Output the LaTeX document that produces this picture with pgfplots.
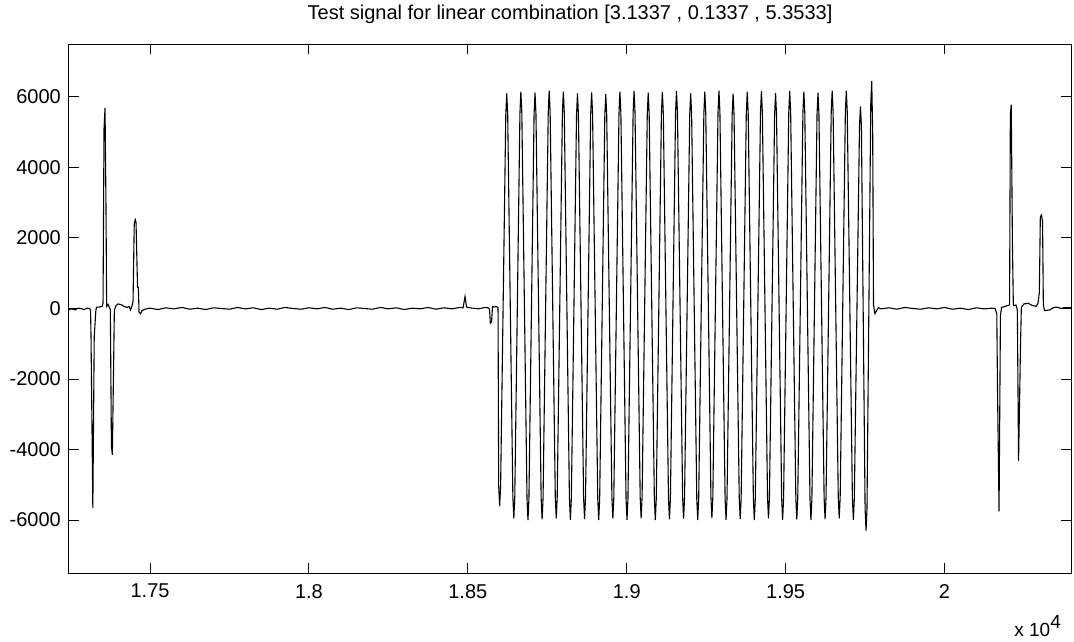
\documentclass[border=0pt]{standalone}
\usepackage{pgfplots}
\pgfplotsset{compat=1.18}
\usepackage{fontspec}
\setmainfont{Liberation Sans}
\begin{document}
\begin{tikzpicture}
\path[use as bounding box] (-69pt,-68pt) rectangle (1005pt,573pt);
\begin{axis}[
  name=ax,
  at={(0pt,0pt)}, anchor=south west,
  scale only axis, width=1002pt, height=529pt,
  xmin=17245, xmax=20398, ymin=-7500, ymax=7500,
  xtick={17500,18000,18500,19000,19500,20000},
  xticklabels={1.75,1.8,1.85,1.9,1.95,2},
  ytick={-6000,-4000,-2000,0,2000,4000,6000},
  yticklabels={-6000,-4000,-2000,0,2000,4000,6000},
  scaled x ticks=false, scaled y ticks=false,
  tick pos=both, xticklabel pos=lower, yticklabel pos=left,
  tick align=inside, major tick length=10pt,
  tick style={black, line width=1pt},
  axis line style={line width=1pt},
  tick label style={font=\fontsize{20}{24}\selectfont},
  xticklabel style={anchor=north, inner sep=0pt, yshift=-11pt},
  yticklabel style={anchor=east, inner sep=0pt, xshift=-8pt},
  title={Test signal for linear combination [3.1337 , 0.1337 , 5.3533]},
  title style={at={(0.5,1)}, anchor=base, yshift=19pt, inner sep=0pt, font=\fontsize{20}{24}\selectfont},
]
\addplot[black, line width=1.1pt, mark=none] coordinates {
(17245.1,-30) (17254.6,-10) (17264.0,-40) (17273.4,10) (17282.9,0) (17292.3,-30) (17301.8,10) (17309.6,0)
(17312.8,-50) (17314.3,-780) (17320.0,-5650) (17324.4,-800) (17329.5,-60) (17331.6,40) (17339.5,40) (17349.0,60)
(17352.1,150) (17355.2,5100) (17358.4,5680) (17361.5,2780) (17363.4,60) (17367.8,120) (17372.6,20)
(17375.1,-30) (17378.5,-3900) (17381.4,-4150) (17385.1,-1800) (17387.7,-50) (17393.0,80) (17399.3,130)
(17408.7,110) (17418.2,60) (17427.6,30) (17433.9,60) (17438.6,-40) (17443.4,80) (17446.5,200)
(17450.3,2400) (17453.4,2520) (17455.9,2450) (17460.7,600) (17463.2,600) (17465.4,-100) (17470.1,-150)
(17474.8,-60) (17484.3,-20)
(17500,10) (17525,-30) (17550,20) (17575,-10) (17600,30) (17625,-20) (17650,10) (17675,-30) (17700,20)
(17725,0) (17750,-20) (17775,30) (17800,-10) (17825,20) (17850,-30) (17875,10) (17900,-20) (17925,30)
(17950,0) (17975,-20) (18000,20) (18025,-10) (18050,30) (18075,-20) (18100,10) (18125,-30) (18150,20)
(18175,0) (18200,-20) (18225,30) (18250,-10) (18275,20) (18300,-30) (18325,10) (18350,-10) (18375,30)
(18400,-20) (18425,20) (18450,-10) (18475,30) (18485,20) (18491.2,340) (18495.9,40) (18506.9,20)
(18532.1,-10) (18554.1,30) (18563.6,20) (18568.3,-20) (18570.8,-420) (18574.6,-380) (18577.7,60)
(18582.4,40) (18588.7,60) (18595,30)
(18597.1,-5040) (18600.1,-5600) (18603.1,-5040) (18619.4,5490) (18622.4,6100) (18625.4,5490)
(18641.7,-5355) (18644.7,-5950) (18647.7,-5355) (18663.9,5535) (18666.9,6150) (18669.9,5535)
(18686.2,-5400) (18689.2,-6000) (18692.2,-5400) (18708.4,5508) (18711.4,6120) (18714.4,5508)
(18730.7,-5382) (18733.7,-5980) (18736.7,-5382) (18753.0,5562) (18756.0,6180) (18759.0,5562)
(18775.2,-5355) (18778.2,-5950) (18781.2,-5355) (18797.5,5535) (18800.5,6150) (18803.5,5535)
(18819.7,-5391) (18822.7,-5990) (18825.7,-5391) (18842.0,5490) (18845.0,6100) (18848.0,5490)
(18864.3,-5373) (18867.3,-5970) (18870.3,-5373) (18886.5,5517) (18889.5,6130) (18892.5,5517)
(18908.8,-5400) (18911.8,-6000) (18914.8,-5400) (18931.0,5472) (18934.0,6080) (18937.0,5472)
(18953.3,-5364) (18956.3,-5960) (18959.3,-5364) (18975.6,5535) (18978.6,6150) (18981.6,5535)
(18997.8,-5391) (19000.8,-5990) (19003.8,-5391) (19020.1,5553) (19023.1,6170) (19026.1,5553)
(19042.3,-5355) (19045.3,-5950) (19048.3,-5355) (19064.6,5508) (19067.6,6120) (19070.6,5508)
(19086.9,-5400) (19089.9,-6000) (19092.9,-5400) (19109.1,5526) (19112.1,6140) (19115.1,5526)
(19131.4,-5382) (19134.4,-5980) (19137.4,-5382) (19153.6,5544) (19156.6,6160) (19159.6,5544)
(19175.9,-5364) (19178.9,-5960) (19181.9,-5364) (19198.2,5490) (19201.2,6100) (19204.2,5490)
(19220.4,-5400) (19223.4,-6000) (19226.4,-5400) (19242.7,5535) (19245.7,6150) (19248.7,5535)
(19264.9,-5346) (19267.9,-5940) (19270.9,-5346) (19287.2,5562) (19290.2,6180) (19293.2,5562)
(19309.5,-5391) (19312.5,-5990) (19315.5,-5391) (19331.7,5481) (19334.7,6090) (19337.7,5481)
(19354.0,-5373) (19357.0,-5970) (19360.0,-5373) (19376.2,5526) (19379.2,6140) (19382.2,5526)
(19398.5,-5400) (19401.5,-6000) (19404.5,-5400) (19420.8,5544) (19423.8,6160) (19426.8,5544)
(19443.0,-5355) (19446.0,-5950) (19449.0,-5355) (19465.3,5499) (19468.3,6110) (19471.3,5499)
(19487.5,-5391) (19490.5,-5990) (19493.5,-5391) (19509.8,5553) (19512.8,6170) (19515.8,5553)
(19532.1,-5382) (19535.1,-5980) (19538.1,-5382) (19554.3,5535) (19557.3,6150) (19560.3,5535)
(19576.6,-5400) (19579.6,-6000) (19582.6,-5400) (19598.8,5508) (19601.8,6120) (19604.8,5508)
(19621.1,-5373) (19624.1,-5970) (19627.1,-5373) (19643.4,5562) (19646.4,6180) (19649.4,5562)
(19665.6,-5355) (19668.6,-5950) (19671.6,-5355) (19687.9,5562) (19690.9,6180) (19693.9,5562)
(19710.1,-5391) (19713.1,-5990) (19716.1,-5391) (19732.4,5157) (19735.4,5730) (19738.4,5157)
(19750.0,-5670) (19753.0,-6300) (19756.0,-5670) (19767.9,5805) (19770.9,6450) (19773.9,5000)
(19776.5,100) (19781,-150) (19786,-60) (19792,20)
(19800,-10) (19825,20) (19850,-20) (19875,30) (19900,0) (19925,-20) (19950,20) (19975,-10) (20000,30)
(20025,-20) (20050,10) (20075,-30) (20100,20) (20125,-10) (20150,10) (20158.9,0)
(20164.5,-150) (20166.4,-2090) (20171.5,-5750) (20175.9,-200) (20179.4,30) (20187.3,50) (20196.7,80)
(20204.6,100) (20207.1,5500) (20209.9,5780) (20213.7,1770) (20216.5,80) (20225.0,100) (20229.1,-50)
(20232.9,-4325) (20239.2,-970) (20241.7,40) (20250.1,130) (20262.7,150) (20275.3,90) (20287.9,60)
(20294.2,150) (20298.3,450) (20301.4,2600) (20305.2,2650) (20308.4,2450) (20310.9,100) (20314.7,-60)
(20322.5,-50) (20332.0,-40) (20341.4,20) (20354.0,40) (20366.6,0) (20379.2,30) (20398.0,20)
};
\end{axis}
\node[anchor=base east, inner sep=0pt, xshift=-10pt, yshift=-63pt, font=\fontsize{19}{21}\selectfont]
  at (ax.south east) {x 10\raisebox{8pt}{\fontsize{19}{21}\selectfont 4}};
\end{tikzpicture}
\end{document}
